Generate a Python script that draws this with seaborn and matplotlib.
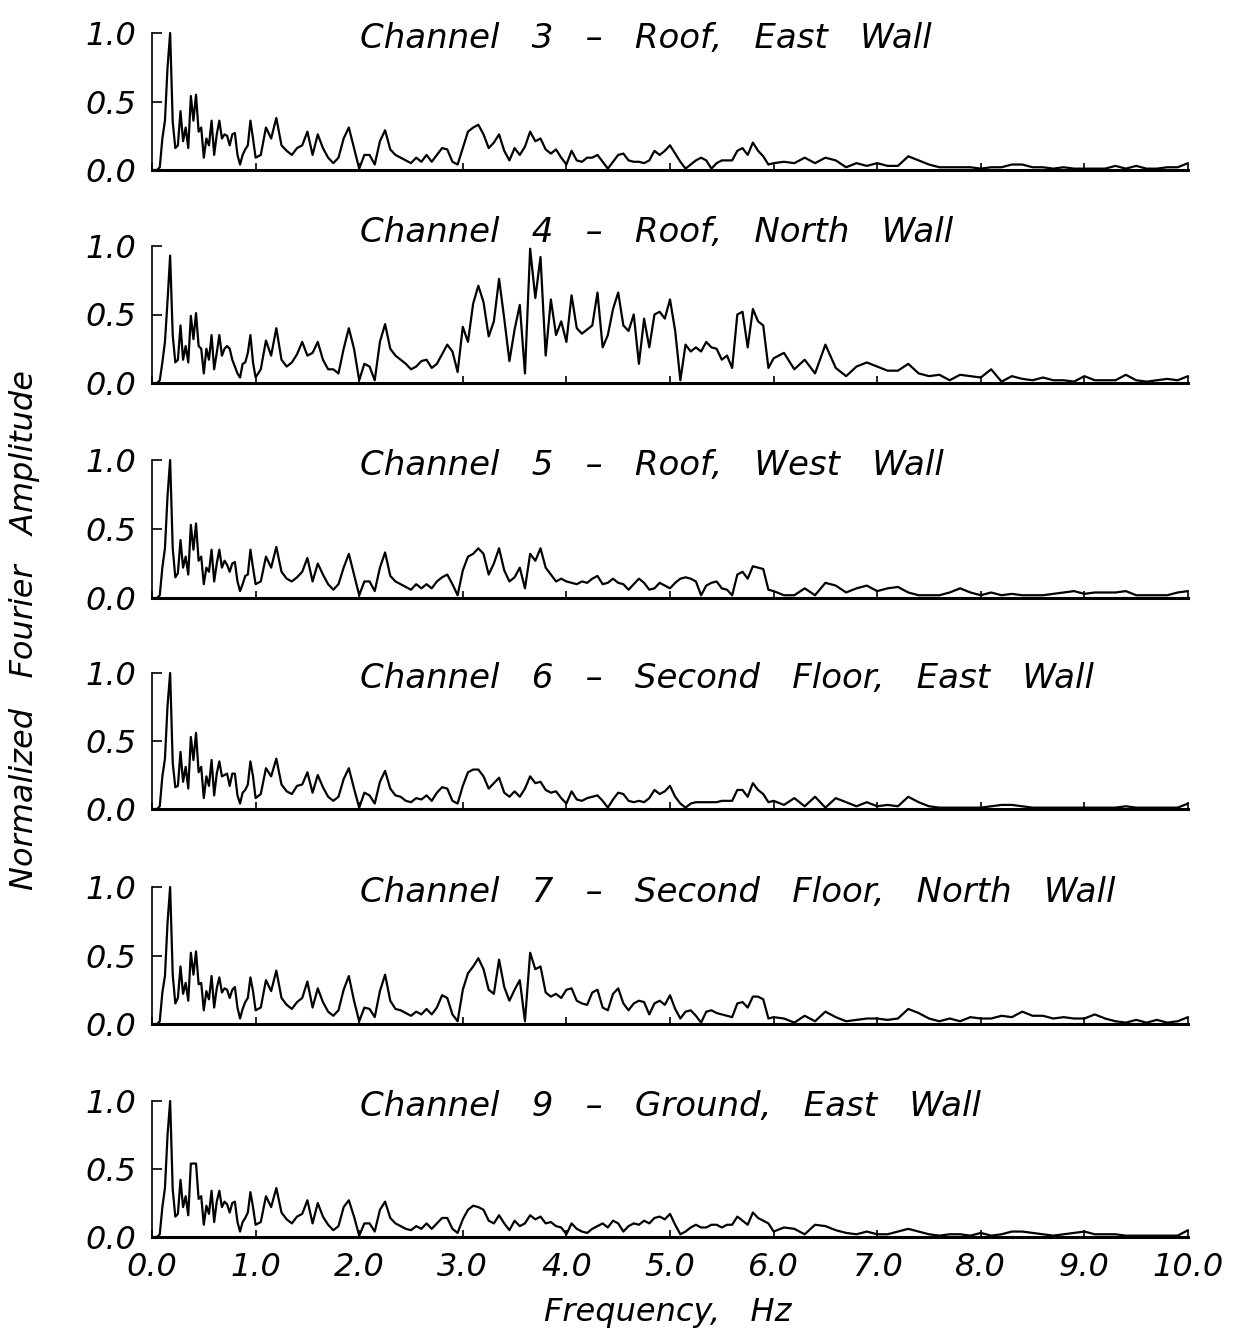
import numpy as np
import matplotlib
matplotlib.use("Agg")
import matplotlib.pyplot as plt
import seaborn as sns

sns.set_theme(style="white")
plt.rcParams["font.family"] = ["DejaVu Sans"]
plt.rcParams["font.style"] = "italic"

# frequency sampling (Hz)
freq = np.round(np.concatenate([np.linspace(0.0, 0.975, 40),
                                np.linspace(1.0, 5.95, 100),
                                np.linspace(6.0, 10.0, 41)]), 3)

ch3 = [0.0, 0.0, 0.0, 0.02, 0.23, 0.36, 0.75, 1.0, 0.35, 0.16,
       0.18, 0.43, 0.21, 0.31, 0.16, 0.54, 0.36, 0.55, 0.28, 0.31,
       0.09, 0.23, 0.18, 0.36, 0.11, 0.26, 0.36, 0.23, 0.26, 0.25,
       0.18, 0.26, 0.27, 0.11, 0.04, 0.11, 0.15, 0.18, 0.36, 0.23,
       0.09, 0.11, 0.31, 0.23, 0.38, 0.18, 0.14, 0.11, 0.16, 0.18,
       0.28, 0.11, 0.26, 0.16, 0.09, 0.05, 0.09, 0.23, 0.31, 0.16,
       0.01, 0.11, 0.11, 0.04, 0.21, 0.29, 0.15, 0.11, 0.09, 0.07,
       0.05, 0.09, 0.06, 0.11, 0.06, 0.11, 0.16, 0.15, 0.06, 0.04,
       0.16, 0.28, 0.31, 0.33, 0.26, 0.16, 0.20, 0.26, 0.14, 0.07,
       0.16, 0.11, 0.17, 0.28, 0.21, 0.23, 0.15, 0.12, 0.15, 0.09,
       0.04, 0.14, 0.07, 0.06, 0.09, 0.09, 0.11, 0.06, 0.01, 0.06,
       0.11, 0.12, 0.07, 0.06, 0.06, 0.05, 0.07, 0.14, 0.11, 0.14,
       0.18, 0.12, 0.06, 0.01, 0.04, 0.07, 0.09, 0.07, 0.01, 0.05,
       0.07, 0.07, 0.07, 0.14, 0.16, 0.11, 0.20, 0.14, 0.10, 0.04,
       0.05, 0.06, 0.05, 0.09, 0.05, 0.09, 0.07, 0.02, 0.05, 0.03,
       0.05, 0.03, 0.03, 0.10, 0.07, 0.04, 0.02, 0.02, 0.02, 0.02,
       0.01, 0.02, 0.02, 0.04, 0.04, 0.02, 0.02, 0.01, 0.02, 0.01,
       0.01, 0.01, 0.01, 0.03, 0.01, 0.03, 0.01, 0.01, 0.02, 0.02,
       0.05]

ch4 = [0.0, 0.0, 0.0, 0.02, 0.15, 0.30, 0.60, 0.93, 0.35, 0.15,
       0.17, 0.42, 0.17, 0.27, 0.15, 0.49, 0.32, 0.51, 0.27, 0.25,
       0.07, 0.25, 0.17, 0.35, 0.10, 0.22, 0.35, 0.20, 0.25, 0.27,
       0.25, 0.17, 0.12, 0.07, 0.04, 0.14, 0.15, 0.22, 0.35, 0.15,
       0.04, 0.10, 0.31, 0.20, 0.40, 0.17, 0.12, 0.15, 0.21, 0.30,
       0.20, 0.22, 0.30, 0.17, 0.10, 0.10, 0.07, 0.25, 0.40, 0.25,
       0.02, 0.14, 0.12, 0.02, 0.30, 0.43, 0.25, 0.20, 0.17, 0.14,
       0.10, 0.12, 0.16, 0.17, 0.11, 0.14, 0.21, 0.28, 0.23, 0.08,
       0.41, 0.30, 0.58, 0.71, 0.59, 0.34, 0.45, 0.76, 0.47, 0.16,
       0.39, 0.57, 0.07, 0.98, 0.62, 0.92, 0.20, 0.61, 0.35, 0.45,
       0.30, 0.64, 0.40, 0.36, 0.39, 0.42, 0.66, 0.26, 0.35, 0.54,
       0.66, 0.42, 0.38, 0.50, 0.14, 0.47, 0.26, 0.50, 0.52, 0.47,
       0.61, 0.38, 0.02, 0.28, 0.23, 0.26, 0.23, 0.30, 0.26, 0.25,
       0.17, 0.20, 0.11, 0.50, 0.52, 0.26, 0.54, 0.45, 0.42, 0.11,
       0.18, 0.22, 0.10, 0.17, 0.07, 0.28, 0.11, 0.05, 0.12, 0.15,
       0.12, 0.09, 0.09, 0.14, 0.07, 0.05, 0.06, 0.02, 0.06, 0.05,
       0.04, 0.10, 0.01, 0.05, 0.03, 0.02, 0.04, 0.02, 0.02, 0.01,
       0.05, 0.02, 0.02, 0.02, 0.06, 0.02, 0.01, 0.02, 0.03, 0.02,
       0.05]

ch5 = [0.0, 0.0, 0.0, 0.02, 0.22, 0.36, 0.74, 1.0, 0.36, 0.15,
       0.18, 0.42, 0.22, 0.30, 0.17, 0.53, 0.35, 0.54, 0.27, 0.30,
       0.10, 0.22, 0.19, 0.35, 0.12, 0.25, 0.35, 0.22, 0.27, 0.24,
       0.19, 0.25, 0.26, 0.12, 0.05, 0.10, 0.16, 0.17, 0.35, 0.22,
       0.10, 0.12, 0.30, 0.22, 0.37, 0.19, 0.14, 0.12, 0.15, 0.19,
       0.29, 0.12, 0.25, 0.17, 0.10, 0.06, 0.10, 0.22, 0.32, 0.17,
       0.02, 0.12, 0.12, 0.05, 0.22, 0.33, 0.16, 0.12, 0.10, 0.08,
       0.06, 0.10, 0.07, 0.10, 0.07, 0.12, 0.15, 0.17, 0.10, 0.02,
       0.20, 0.30, 0.32, 0.36, 0.32, 0.17, 0.25, 0.36, 0.20, 0.12,
       0.15, 0.22, 0.07, 0.32, 0.27, 0.36, 0.22, 0.17, 0.12, 0.14,
       0.12, 0.11, 0.10, 0.12, 0.11, 0.14, 0.16, 0.10, 0.11, 0.14,
       0.11, 0.10, 0.06, 0.10, 0.14, 0.11, 0.06, 0.07, 0.11, 0.09,
       0.07, 0.11, 0.14, 0.15, 0.14, 0.12, 0.02, 0.09, 0.11, 0.12,
       0.07, 0.06, 0.02, 0.17, 0.19, 0.14, 0.23, 0.22, 0.21, 0.06,
       0.05, 0.02, 0.02, 0.07, 0.02, 0.11, 0.09, 0.04, 0.07, 0.09,
       0.05, 0.07, 0.08, 0.04, 0.02, 0.02, 0.02, 0.04, 0.07, 0.04,
       0.02, 0.04, 0.02, 0.03, 0.02, 0.02, 0.02, 0.03, 0.04, 0.05,
       0.03, 0.04, 0.04, 0.04, 0.05, 0.02, 0.02, 0.02, 0.02, 0.04,
       0.05]

ch6 = [0.0, 0.0, 0.0, 0.02, 0.24, 0.37, 0.76, 1.0, 0.34, 0.16,
       0.17, 0.42, 0.20, 0.31, 0.15, 0.53, 0.36, 0.56, 0.27, 0.31,
       0.08, 0.24, 0.17, 0.36, 0.10, 0.26, 0.35, 0.24, 0.25, 0.26,
       0.17, 0.26, 0.26, 0.10, 0.04, 0.12, 0.14, 0.18, 0.35, 0.24,
       0.08, 0.11, 0.30, 0.24, 0.37, 0.18, 0.13, 0.11, 0.17, 0.18,
       0.27, 0.12, 0.25, 0.16, 0.09, 0.06, 0.09, 0.22, 0.30, 0.15,
       0.01, 0.12, 0.10, 0.04, 0.20, 0.28, 0.15, 0.10, 0.09, 0.06,
       0.05, 0.08, 0.07, 0.10, 0.06, 0.12, 0.16, 0.15, 0.06, 0.04,
       0.17, 0.27, 0.29, 0.29, 0.24, 0.15, 0.19, 0.23, 0.12, 0.09,
       0.13, 0.09, 0.15, 0.24, 0.19, 0.20, 0.14, 0.12, 0.13, 0.08,
       0.04, 0.13, 0.07, 0.06, 0.08, 0.09, 0.10, 0.06, 0.01, 0.07,
       0.12, 0.11, 0.06, 0.05, 0.06, 0.05, 0.08, 0.14, 0.11, 0.13,
       0.17, 0.09, 0.04, 0.01, 0.04, 0.05, 0.05, 0.05, 0.05, 0.05,
       0.06, 0.06, 0.06, 0.14, 0.14, 0.09, 0.19, 0.14, 0.11, 0.05,
       0.06, 0.03, 0.08, 0.02, 0.09, 0.01, 0.08, 0.05, 0.02, 0.05,
       0.02, 0.03, 0.02, 0.09, 0.05, 0.02, 0.01, 0.01, 0.01, 0.01,
       0.01, 0.02, 0.03, 0.03, 0.02, 0.01, 0.01, 0.01, 0.01, 0.01,
       0.01, 0.01, 0.01, 0.01, 0.02, 0.01, 0.01, 0.01, 0.01, 0.01,
       0.04]

ch7 = [0.0, 0.0, 0.0, 0.02, 0.23, 0.35, 0.74, 1.0, 0.36, 0.15,
       0.19, 0.42, 0.22, 0.30, 0.17, 0.52, 0.36, 0.53, 0.29, 0.30,
       0.10, 0.24, 0.18, 0.35, 0.12, 0.26, 0.34, 0.23, 0.26, 0.25,
       0.19, 0.25, 0.27, 0.12, 0.04, 0.11, 0.16, 0.19, 0.34, 0.24,
       0.10, 0.12, 0.32, 0.24, 0.39, 0.19, 0.14, 0.11, 0.16, 0.19,
       0.31, 0.12, 0.26, 0.16, 0.09, 0.06, 0.10, 0.25, 0.35, 0.17,
       0.02, 0.12, 0.11, 0.05, 0.24, 0.36, 0.17, 0.11, 0.10, 0.08,
       0.06, 0.09, 0.07, 0.11, 0.07, 0.12, 0.21, 0.19, 0.07, 0.02,
       0.25, 0.37, 0.42, 0.48, 0.40, 0.25, 0.22, 0.47, 0.27, 0.17,
       0.25, 0.32, 0.02, 0.52, 0.40, 0.42, 0.23, 0.20, 0.22, 0.19,
       0.25, 0.26, 0.17, 0.15, 0.14, 0.23, 0.25, 0.12, 0.10, 0.22,
       0.26, 0.15, 0.10, 0.15, 0.17, 0.16, 0.07, 0.15, 0.17, 0.14,
       0.21, 0.11, 0.04, 0.09, 0.10, 0.06, 0.01, 0.09, 0.10, 0.08,
       0.07, 0.06, 0.05, 0.15, 0.16, 0.12, 0.20, 0.20, 0.18, 0.04,
       0.05, 0.04, 0.01, 0.06, 0.02, 0.09, 0.05, 0.02, 0.03, 0.04,
       0.04, 0.03, 0.04, 0.11, 0.08, 0.04, 0.02, 0.04, 0.02, 0.05,
       0.04, 0.04, 0.06, 0.05, 0.09, 0.06, 0.06, 0.04, 0.05, 0.04,
       0.04, 0.07, 0.04, 0.02, 0.01, 0.03, 0.01, 0.03, 0.01, 0.02,
       0.05]

ch9 = [0.0, 0.0, 0.0, 0.02, 0.22, 0.36, 0.75, 1.0, 0.35, 0.15,
       0.17, 0.42, 0.22, 0.30, 0.16, 0.54, 0.54, 0.54, 0.28, 0.30,
       0.09, 0.23, 0.17, 0.34, 0.11, 0.26, 0.34, 0.22, 0.26, 0.24,
       0.18, 0.25, 0.26, 0.11, 0.04, 0.11, 0.14, 0.18, 0.33, 0.22,
       0.09, 0.11, 0.30, 0.22, 0.36, 0.18, 0.13, 0.10, 0.15, 0.17,
       0.27, 0.10, 0.25, 0.15, 0.09, 0.05, 0.08, 0.22, 0.27, 0.15,
       0.01, 0.10, 0.10, 0.04, 0.20, 0.26, 0.14, 0.10, 0.08, 0.06,
       0.05, 0.08, 0.06, 0.10, 0.06, 0.10, 0.14, 0.14, 0.06, 0.03,
       0.13, 0.20, 0.23, 0.22, 0.20, 0.12, 0.10, 0.16, 0.10, 0.05,
       0.12, 0.08, 0.10, 0.16, 0.13, 0.15, 0.10, 0.11, 0.08, 0.07,
       0.02, 0.10, 0.06, 0.04, 0.03, 0.06, 0.08, 0.10, 0.07, 0.12,
       0.10, 0.04, 0.08, 0.10, 0.09, 0.12, 0.10, 0.14, 0.15, 0.13,
       0.17, 0.09, 0.02, 0.04, 0.07, 0.09, 0.07, 0.07, 0.09, 0.09,
       0.07, 0.09, 0.09, 0.15, 0.12, 0.09, 0.18, 0.14, 0.12, 0.10,
       0.04, 0.07, 0.06, 0.02, 0.09, 0.08, 0.05, 0.03, 0.02, 0.04,
       0.02, 0.02, 0.04, 0.06, 0.04, 0.02, 0.01, 0.02, 0.02, 0.01,
       0.03, 0.01, 0.02, 0.04, 0.04, 0.03, 0.02, 0.01, 0.02, 0.03,
       0.04, 0.02, 0.02, 0.02, 0.01, 0.01, 0.01, 0.01, 0.01, 0.01,
       0.05]

titles = ["Channel   3   \u2013   Roof,   East   Wall",
          "Channel   4   \u2013   Roof,   North   Wall",
          "Channel   5   \u2013   Roof,   West   Wall",
          "Channel   6   \u2013   Second   Floor,   East   Wall",
          "Channel   7   \u2013   Second   Floor,   North   Wall",
          "Channel   9   \u2013   Ground,   East   Wall"]
series = [ch3, ch4, ch5, ch6, ch7, ch9]
ytick_vals = [0.0, 0.5, 1.0]
ytick_labels = ["0.0", "0.5", "1.0"]
xtick_vals = list(range(0, 11))
xtick_labels = ["0.0", "1.0", "2.0", "3.0", "4.0", "5.0", "6.0", "7.0", "8.0", "9.0", "10.0"]

W, H = 1239, 1335
fig = plt.figure(figsize=(W / 100, H / 100), dpi=100)
fig.patch.set_facecolor("white")

tops = [33, 246, 460, 673, 887, 1101]
bots = [170, 383, 598, 809, 1024, 1237]
title_y = [0.892, 1.032, 0.892, 0.892, 0.892, 0.892]
x0, x1 = 152, 1188
FS = 23
TFS = 24.5

for i, (vals, ttl) in enumerate(zip(series, titles)):
    ax = fig.add_axes([x0 / W, 1 - bots[i] / H, (x1 - x0) / W, (bots[i] - tops[i]) / H])
    ax.set_facecolor("none")
    sns.lineplot(x=freq, y=np.array(vals), ax=ax, color="black", linewidth=1.6,
                 clip_on=False, estimator=None)
    ax.set_xlim(0, 10)
    ax.set_ylim(0, 1.0)
    for s in ["top", "right"]:
        ax.spines[s].set_visible(False)
    ax.spines["left"].set_linewidth(1.2)
    ax.spines["left"].set_color("black")
    ax.spines["bottom"].set_linewidth(2.2)
    ax.spines["bottom"].set_color("black")
    ax.set_yticks(ytick_vals)
    ax.set_yticklabels(ytick_labels)
    ax.tick_params(axis="y", direction="in", length=7, width=1.2, pad=11,
                   labelsize=FS, colors="black", left=True)
    ax.set_xticks(xtick_vals)
    ax.tick_params(axis="x", direction="in", length=5, width=1.2, pad=11,
                   labelsize=FS, colors="black", bottom=True)
    if i < 5:
        ax.set_xticklabels([])
    else:
        ax.set_xticklabels(xtick_labels)
    ax.set_xlabel("")
    ax.set_ylabel("")
    ax.grid(False)
    ax.text((360 - x0) / (x1 - x0), title_y[i], ttl, transform=ax.transAxes,
            ha="left", va="baseline", fontsize=TFS, color="black")

fig.text(668 / W, 1 - 1313 / H, "Frequency,   Hz", ha="center", va="center",
         fontsize=FS, color="black")
fig.text(25 / W, 1 - 630 / H, "Normalized   Fourier   Amplitude", ha="center",
         va="center", rotation=90, fontsize=FS, color="black")

fig.savefig("out.png", dpi=100, facecolor="white")
